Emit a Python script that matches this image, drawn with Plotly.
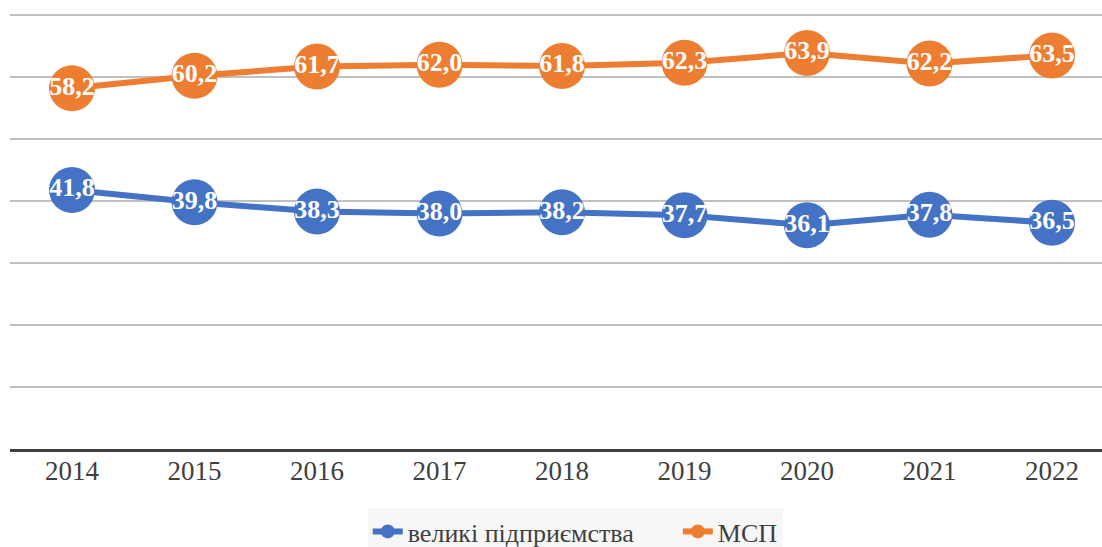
import plotly.graph_objects as go

years = ["2014", "2015", "2016", "2017", "2018", "2019", "2020", "2021", "2022"]
large = [41.8, 39.8, 38.3, 38.0, 38.2, 37.7, 36.1, 37.8, 36.5]
sme = [58.2, 60.2, 61.7, 62.0, 61.8, 62.3, 63.9, 62.2, 63.5]
names = ["великі підприємства", "МСП"]
colors = ["#4472C4", "#ED7D31"]

FONT = "Liberation Serif, Times New Roman, serif"

def fmt(v):
    return f"{v:.1f}".replace(".", ",")

fig = go.Figure()
for vals, name, col in [(large, names[0], colors[0]), (sme, names[1], colors[1])]:
    fig.add_trace(go.Scatter(
        x=years, y=vals, mode="lines+markers+text",
        line=dict(color=col, width=6),
        marker=dict(size=46, color=col),
        text=[fmt(v) for v in vals], textposition="middle center",
        textfont=dict(family=FONT, size=26, color="white", weight="bold"),
        showlegend=False, cliponaxis=False, hoverinfo="skip",
    ))
legend_names = [names[0] + "\u00a0" * 6, names[1]]
for name, col in zip(legend_names, colors):
    fig.add_trace(go.Scatter(
        x=[None], y=[None], mode="lines+markers", name=name,
        line=dict(color=col, width=6), marker=dict(size=14, color=col),
    ))

fig.update_layout(
    width=1102, height=547,
    margin=dict(l=10, r=0, t=12, b=98, autoexpand=False),
    plot_bgcolor="white", paper_bgcolor="white",
    font=dict(family=FONT, color="#404040"),
    xaxis=dict(type="category", range=[-0.506, 8.408], showgrid=False,
               showline=True, linecolor="#404040", linewidth=3,
               ticks="", tickfont=dict(size=27, color="#404040", family=FONT),
               ticklabelstandoff=-4,
               fixedrange=True, automargin=False),
    yaxis=dict(range=[0, 70.5], tickvals=[10, 20, 30, 40, 50, 60, 70],
               showgrid=True, gridcolor="#c0c0c0",
               gridwidth=1.5, showticklabels=False, zeroline=False, fixedrange=True,
               automargin=False),
    legend=dict(orientation="h", xref="container", yref="container",
                x=0.522, xanchor="center", y=1 - 508 / 547, yanchor="top",
                bgcolor="#f7f7f7", font=dict(size=26, color="#404040", family=FONT),
                itemwidth=30),
    showlegend=True,
)

fig.write_html("out.html", config={"displayModeBar": False},
               post_script="document.body.style.margin='0px';document.body.style.overflow='hidden';")
